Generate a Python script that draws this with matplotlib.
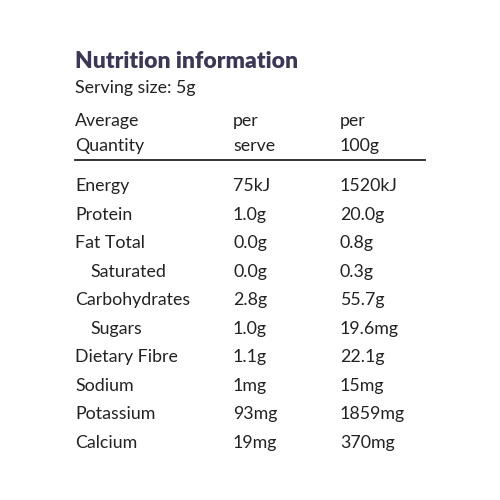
import matplotlib.pyplot as plt

# Table data
nutrients = ['Energy', 'Protein', 'Fat Total', 'Saturated', 'Carbohydrates',
             'Sugars', 'Dietary Fibre', 'Sodium', 'Potassium', 'Calcium']
indented = [False, False, False, True, False, True, False, False, False, False]
per_serve = ['75kJ', '1.0g', '0.0g', '0.0g', '2.8g', '1.0g', '1.1g', '1mg', '93mg', '19mg']
per_100g = ['1520kJ', '20.0g', '0.8g', '0.3g', '55.7g', '19.6mg', '22.1g', '15mg', '1859mg', '370mg']

fig = plt.figure(figsize=(5, 5), dpi=100)
ax = fig.add_axes([0, 0, 1, 1])
ax.set_xlim(0, 500)
ax.set_ylim(500, 0)
ax.axis('off')

txt = '#222222'
fs = 12.8
font = 'Lato'

ax.text(75, 62, 'Nutrition information', fontsize=16.5, fontweight='heavy',
        color='#3b3756', family=font, va='center')
ax.text(75, 88, 'Serving size: 5g', fontsize=fs, color=txt, family=font, va='center')

ax.text(75, 121, 'Average', fontsize=fs, color=txt, family=font, va='center')
ax.text(75, 146, 'Quantity', fontsize=fs, color=txt, family=font, va='center')
ax.text(233, 121, 'per', fontsize=fs, color=txt, family=font, va='center')
ax.text(233, 146, 'serve', fontsize=fs, color=txt, family=font, va='center')
ax.text(340, 121, 'per', fontsize=fs, color=txt, family=font, va='center')
ax.text(340, 146, '100g', fontsize=fs, color=txt, family=font, va='center')
ax.plot([75, 425], [160, 160], color='#222222', lw=1.3)

for i, name in enumerate(nutrients):
    y = 186 + i * 28.55
    x = 90 if indented[i] else 75
    ax.text(x, y, name, fontsize=fs, color=txt, family=font, va='center')
    ax.text(233, y, per_serve[i], fontsize=fs, color=txt, family=font, va='center')
    ax.text(340, y, per_100g[i], fontsize=fs, color=txt, family=font, va='center')

fig.savefig('out.png', dpi=100, facecolor='white')
